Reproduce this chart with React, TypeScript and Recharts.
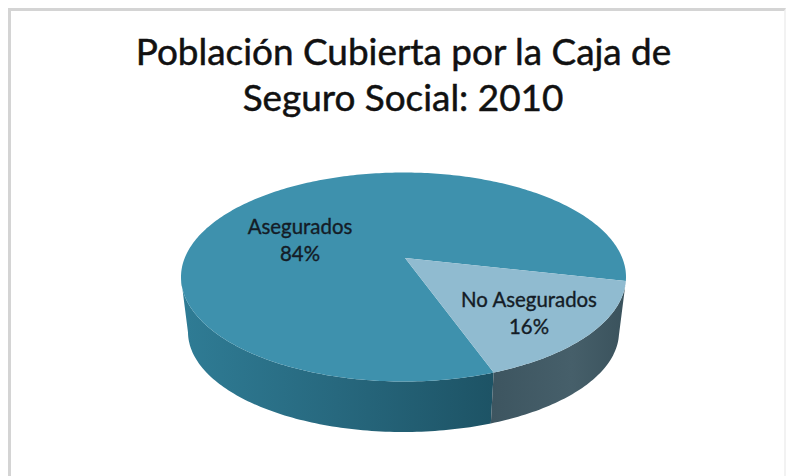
import { Pie, PieChart } from "recharts";

const TITLE_LINES = ["Población Cubierta por la Caja de", "Seguro Social: 2010"];
const SLICE_NAMES = ["Asegurados", "No Asegurados"];
const SLICE_SHARES = [84, 16];
const TOP_COLORS = ["#3e91ad", "#90bbd0"];
const WALL_FILLS = ["url(#wallTeal)", "url(#wallSlate)"];
const LABEL_OFFSETS = [
  { dx: -105, dy: -18 },
  { dx: 124, dy: 55 },
];

const pieData = SLICE_NAMES.map((name, i) => ({
  name,
  value: SLICE_SHARES[i],
  fill: TOP_COLORS[i],
  wall: WALL_FILLS[i],
  labelOffset: LABEL_OFFSETS[i],
}));

// 3D look: the rim is an ellipse sitting lower than the pie centre (perspective)
const RIM = { dx: -1.5, dy: 19, rx: 222.5, ry: 104.5 };
const BASE = { dy: 74, rx: 215.5, ry: 100 };
const SQUASH = 0.46;

type Pt = { x: number; y: number; u: number; v: number };

// where a ray from the centre at a pie angle hits the rim
const rimPoint = (cx: number, cy: number, angle: number): Pt => {
  const rad = (angle * Math.PI) / 180;
  const dx = Math.cos(rad);
  const dy = -Math.sin(rad) * SQUASH;
  const ox = -RIM.dx / RIM.rx;
  const oy = -RIM.dy / RIM.ry;
  const ax = dx / RIM.rx;
  const ay = dy / RIM.ry;
  const a = ax * ax + ay * ay;
  const b = 2 * (ox * ax + oy * ay);
  const c = ox * ox + oy * oy - 1;
  const t = (-b + Math.sqrt(b * b - 4 * a * c)) / (2 * a);
  const u = ox + ax * t;
  const v = oy + ay * t;
  return { x: cx + RIM.dx + u * RIM.rx, y: cy + RIM.dy + v * RIM.ry, u, v };
};

const sampleRim = (cx: number, cy: number, start: number, end: number) => {
  const steps = Math.max(2, Math.ceil(Math.abs(end - start)));
  return Array.from({ length: steps + 1 }, (_, i) => rimPoint(cx, cy, start + ((end - start) * i) / steps));
};

const TopFace = (props: any) => {
  const { cx, cy, startAngle, endAngle, fill } = props;
  const rim = sampleRim(cx, cy, startAngle, endAngle);
  const d = `M${cx},${cy} ` + rim.map((p) => `L${p.x.toFixed(2)},${p.y.toFixed(2)}`).join(" ") + " Z";
  return <path d={d} fill={fill} />;
};

const WallFace = (props: any) => {
  const { cx, cy, startAngle, endAngle, payload } = props;
  const all = sampleRim(cx, cy, startAngle, endAngle);
  // only the stretch after the far side of the rim is visible
  const rim = all.slice(all.map((p) => p.v < 0).lastIndexOf(true) + 1);
  if (rim.length < 2) return null;
  const upper = rim.map((p) => `${p.x.toFixed(2)},${p.y.toFixed(2)}`);
  const lower = rim
    .map((p) => `${(cx + RIM.dx + p.u * BASE.rx).toFixed(2)},${(cy + BASE.dy + p.v * BASE.ry).toFixed(2)}`)
    .reverse();
  return <polygon points={[...upper, ...lower].join(" ")} fill={payload.wall} />;
};

const SliceLabel = (props: any) => {
  const { cx, cy, name, value, labelOffset } = props;
  const x = cx + labelOffset.dx;
  const y = cy + labelOffset.dy;
  return (
    <text
      x={x}
      textAnchor="middle"
      fontFamily="Lato"
      fontSize={20.4}
      fill="#141c26"
      stroke="#141c26"
      strokeWidth={0.35}
    >
      <tspan x={x} y={y - 6}>
        {name}
      </tspan>
      <tspan x={x} y={y + 21}>
        {value}%
      </tspan>
    </text>
  );
};

const App = () => {
  return (
    <div
      style={{
        position: "absolute",
        left: 0,
        top: 0,
        width: 788,
        height: 476,
        background: "#fff",
        overflow: "hidden",
      }}
    >
      <div
        style={{
          position: "absolute",
          left: 8,
          top: 8,
          width: 778,
          height: 468,
          boxSizing: "border-box",
          borderTop: "3px solid #d4d4d4",
          borderLeft: "3px solid #d4d4d4",
          borderRight: "2px solid #f2f2f2",
        }}
      />
      <div style={{ position: "absolute", left: 0, top: 0 }}>
        <PieChart width={788} height={476} margin={{ top: 0, right: 0, bottom: 0, left: 0 }}>
          <defs>
            <linearGradient id="wallTeal" x1="0" y1="0" x2="1" y2="0">
              <stop offset="0%" stopColor="#2f7c95" />
              <stop offset="50%" stopColor="#27687e" />
              <stop offset="100%" stopColor="#1d5365" />
            </linearGradient>
            <linearGradient id="wallSlate" x1="0" y1="0" x2="1" y2="0">
              <stop offset="0%" stopColor="#3d5560" />
              <stop offset="60%" stopColor="#465f6a" />
              <stop offset="100%" stopColor="#3a525c" />
            </linearGradient>
          </defs>
          <Pie
            data={pieData}
            dataKey="value"
            nameKey="name"
            cx={405}
            cy={258}
            outerRadius={200}
            startAngle={-12.8}
            endAngle={347.2}
            stroke="none"
            shape={WallFace}
            isAnimationActive={false}
          />
          <Pie
            data={pieData}
            dataKey="value"
            nameKey="name"
            cx={405}
            cy={258}
            outerRadius={200}
            startAngle={-12.8}
            endAngle={347.2}
            stroke="none"
            shape={TopFace}
            label={SliceLabel}
            labelLine={false}
            isAnimationActive={false}
          />
          <text
            x={403.5}
            y={65}
            textAnchor="middle"
            fontFamily="Lato"
            fontSize={36.9}
            fill="#111"
            stroke="#111"
            strokeWidth={0.5}
          >
            {TITLE_LINES[0]}
          </text>
          <text
            x={403}
            y={111}
            textAnchor="middle"
            fontFamily="Lato"
            fontSize={36.9}
            fill="#111"
            stroke="#111"
            strokeWidth={0.5}
          >
            {TITLE_LINES[1]}
          </text>
        </PieChart>
      </div>
    </div>
  );
};

export default App;
